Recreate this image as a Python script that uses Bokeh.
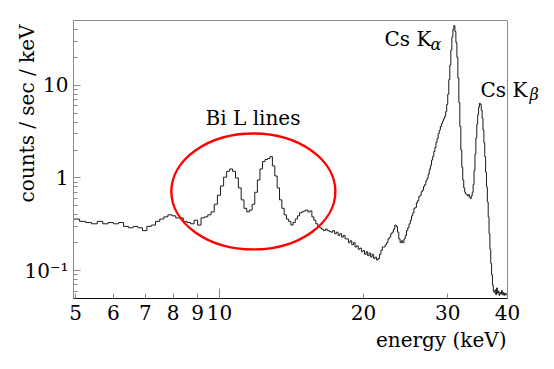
import numpy as np
from bokeh.plotting import figure
from bokeh.models import Range1d, FixedTicker, CustomJSTickFormatter, Label, LogAxis
from bokeh.embed import file_html
from bokeh.resources import INLINE

# ---------------- data (counts / sec / keV per 0.15 keV bin) ----------------
bin_width = 0.15
first_edge = 4.95

bg_low = [0.36, 0.34, 0.33, 0.32, 0.34, 0.32, 0.33, 0.32, 0.33, 0.30,
          0.29, 0.30, 0.29, 0.27, 0.30, 0.31, 0.34, 0.36, 0.38, 0.40,
          0.39, 0.37, 0.37, 0.34, 0.33, 0.32, 0.35, 0.31, 0.37, 0.38,
          0.40, 0.43, 0.52, 0.65]

bi_lines = [0.82, 1.02, 1.18, 1.25, 1.18, 1.00, 0.78, 0.58, 0.47, 0.43,
            0.45, 0.52, 0.70, 0.95, 1.25, 1.50, 1.58, 1.62, 1.70, 1.35,
            1.05, 0.78, 0.58, 0.47, 0.40, 0.36, 0.34, 0.31, 0.33, 0.36,
            0.39, 0.42, 0.43]

tail_mid = [0.44, 0.45, 0.43, 0.44, 0.38, 0.35, 0.32, 0.30, 0.29, 0.28,
            0.27, 0.28, 0.27, 0.265, 0.26, 0.27, 0.25, 0.26, 0.24, 0.25,
            0.23, 0.24, 0.22, 0.22, 0.20, 0.21, 0.19, 0.20, 0.18, 0.185,
            0.17, 0.175, 0.16, 0.165, 0.15, 0.16, 0.145, 0.155, 0.14, 0.15,
            0.135, 0.14, 0.13, 0.135, 0.15, 0.165, 0.18]

rise_k = [0.18, 0.19, 0.20, 0.22, 0.23, 0.25, 0.26, 0.28, 0.31, 0.30,
          0.26, 0.22, 0.20, 0.21, 0.20, 0.22, 0.24, 0.27, 0.29, 0.32,
          0.35, 0.39, 0.42, 0.47, 0.48, 0.54, 0.57, 0.63, 0.65, 0.71,
          0.74, 0.81, 0.85, 0.93, 0.99, 1.10, 1.24, 1.37, 1.56, 1.71,
          1.93, 2.13, 2.42, 2.68, 3.02, 3.28]

cs_peaks = [3.6, 3.85, 4.1, 4.35, 4.6, 5.2, 6.2, 8.0, 11.5, 16.5,
            24.0, 33.0, 40.0, 44.0, 38.0, 29.0, 20.0, 12.0, 6.5, 3.6,
            2.0, 1.3, 0.95, 0.78, 0.70, 0.67, 0.66, 0.64, 0.66, 0.62,
            0.60, 0.64, 0.70, 0.85, 1.2, 1.8, 2.7, 3.8, 4.8, 5.8,
            6.4, 6.2, 5.4, 4.4, 3.3, 2.4, 1.7, 1.15, 0.8, 0.55,
            0.38, 0.25, 0.17, 0.12, 0.09, 0.07, 0.06, 0.058, 0.062, 0.055,
            0.065, 0.057, 0.06, 0.054, 0.058, 0.056, 0.061, 0.055, 0.058, 0.054,
            0.057, 0.055, 0.056, 0.054]

x_ticks = [5, 6, 7, 8, 9, 10, 20, 30, 40]
x_decade_ticks = [10]
y_ticks = [0.1, 1, 10]
y_minor = [0.06, 0.07, 0.08, 0.09, 0.2, 0.3, 0.4, 0.5, 0.6, 0.7, 0.8, 0.9,
           2, 3, 4, 5, 6, 7, 8, 9, 20, 30, 40]

# axis extents of the plotted box
x_lo, x_hi = 4.952, 40.0
y_lo, y_hi = 0.05, 50.0

# ---------------- layout (pixels) ----------------
W, H = 546, 361
box_l, box_r, box_t, box_b = 73, 507, 20, 298
ppx = (box_r - box_l) / np.log10(x_hi / x_lo)
ppy = (box_b - box_t) / np.log10(y_hi / y_lo)
x_range = Range1d(x_lo * 10 ** (-box_l / ppx), x_hi * 10 ** ((W - box_r) / ppx))
y_range = Range1d(y_lo * 10 ** (-(H - box_b) / ppy), y_hi * 10 ** (box_t / ppy))

counts = np.concatenate([bg_low, bi_lines, tail_mid, rise_k, cs_peaks])
edges = first_edge + bin_width * np.arange(len(counts) + 1)
ys = np.append(counts, counts[-1])

FONT = "DejaVu Serif"
GRAY = "#8a8a8a"

p = figure(width=W, height=H, x_axis_type="log", y_axis_type="log",
           x_range=x_range, y_range=y_range,
           output_backend="svg", toolbar_location=None, min_border=0)
p.background_fill_color = "white"
p.border_fill_color = "white"
p.outline_line_color = None
p.xgrid.visible = False
p.ygrid.visible = False

# plot box (top / right borders)
p.quad(left=[x_lo], right=[x_hi], bottom=[y_lo], top=[y_hi],
       fill_color=None, line_color=GRAY, line_width=1)

p.step(edges, ys, mode="after", line_color="#1a1a1a", line_width=1)

p.ellipse(x=[11.77], y=[0.715], width=[164], height=[116],
          width_units="screen", height_units="screen",
          fill_color=None, line_color="#ff0000", line_width=2.4)

# axes pinned to the box
xa = p.xaxis[0]
xa.fixed_location = y_lo
xa.bounds = (x_lo, x_hi)
xa.ticker = FixedTicker(ticks=x_ticks, minor_ticks=[])
xa.major_tick_in = 5
xa.major_tick_out = 0
xa.minor_tick_in = 0
xa.minor_tick_out = 0
xa.major_tick_line_color = GRAY
xa.axis_line_color = "#111111"
xa.major_label_text_font = FONT
xa.major_label_text_font_size = "20px"
xa.major_label_text_color = "black"
xa.major_label_standoff = 6
xa.formatter = CustomJSTickFormatter(code="return tick.toString();")

# longer tick at the decade
xd = LogAxis(fixed_location=y_lo, bounds=(x_lo, x_hi),
             ticker=FixedTicker(ticks=x_decade_ticks, minor_ticks=[]),
             major_tick_in=10, major_tick_out=0, minor_tick_in=0, minor_tick_out=0,
             major_tick_line_color=GRAY, axis_line_color=None,
             major_label_text_color=None)
p.add_layout(xd, "below")

ya = p.yaxis[0]
ya.fixed_location = x_lo
ya.bounds = (y_lo, y_hi)
ya.ticker = FixedTicker(ticks=y_ticks, minor_ticks=y_minor)
ya.major_tick_in = 7
ya.major_tick_out = 0
ya.minor_tick_in = 4
ya.minor_tick_out = 0
ya.major_tick_line_color = GRAY
ya.minor_tick_line_color = GRAY
ya.axis_line_color = GRAY
ya.major_label_text_font = FONT
ya.major_label_text_font_size = "20px"
ya.major_label_text_color = "black"
ya.major_label_standoff = 5
ya.formatter = CustomJSTickFormatter(
    code="if (tick < 0.5) { return '10\u207b\u00b9'; } return tick > 5 ? '10' : '1';")


def text(x, y, s, size="20px", align="left", angle=0.0, style="normal"):
    p.add_layout(Label(x=x, y=H - y, x_units="screen", y_units="screen",
                       text=s, angle=angle, text_align=align,
                       text_baseline="alphabetic", text_font=FONT,
                       text_font_style=style, text_font_size=size,
                       text_color="black"))


# axis titles
text(26, 24, "counts / sec / keV", align="right", angle=np.pi / 2)
text(506, 339, "energy (keV)", align="right")
# peak labels
text(252.5, 117, "Bi L lines", align="center")
text(384, 38, "Cs K")
text(430, 44, "\u03b1", size="16px", style="italic")
text(480, 89, "Cs K")
text(529, 94, "\u03b2", size="16px", style="italic")

open("out.html", "w").write(file_html(p, INLINE))
